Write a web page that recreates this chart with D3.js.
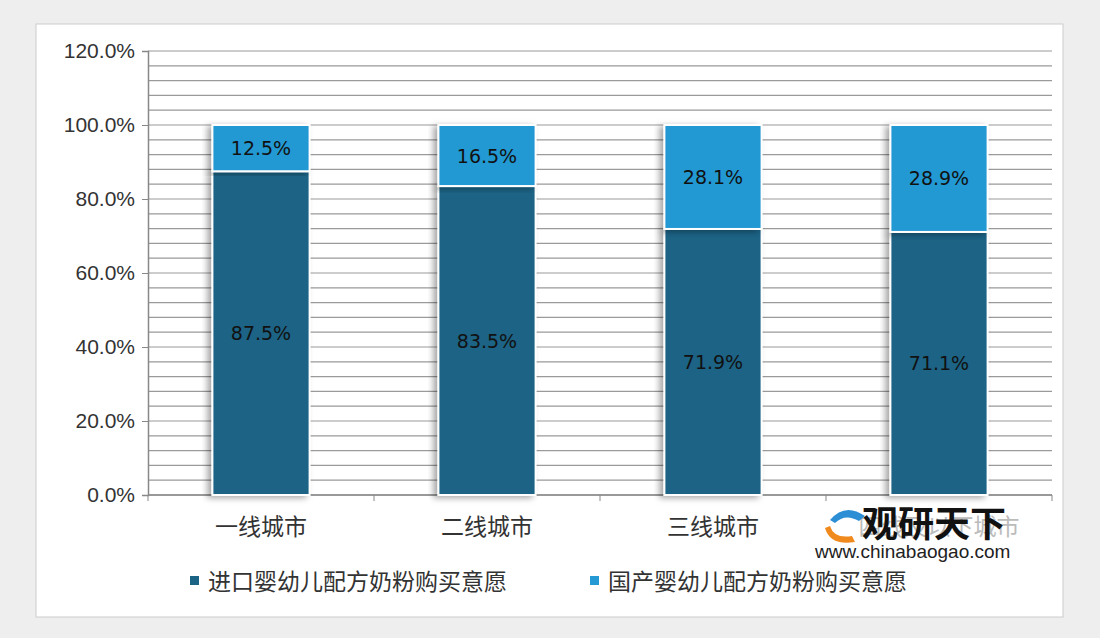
<!DOCTYPE html><html><head><meta charset="utf-8"><script src="https://cdn.jsdelivr.net/npm/d3@7"></script>
<style>body{margin:0;background:#eeeeee}</style></head><body><svg id="c" width="1100" height="638"></svg><script>
const categories=["一线城市","二线城市","三线城市","四线及以下城市"];
const imported=[87.5,83.5,71.9,71.1];
const domestic=[12.5,16.5,28.1,28.9];
const yTicks=[0,20,40,60,80,100,120];
const seriesNames=["进口婴幼儿配方奶粉购买意愿","国产婴幼儿配方奶粉购买意愿"];
const colors=["#1b6385","#2499d3"];
const svg=d3.select("#c");
svg.append("rect").attr("x",36).attr("y",24).attr("width",1027).attr("height",593).attr("fill","#fff").attr("stroke","#ccc");
const x=d3.scaleBand().domain(categories).range([148,1052]).paddingInner(0.57).paddingOuter(0.285);
const y=d3.scaleLinear().domain([0,120]).range([495,51]);
const grid=d3.range(0,121,4);
svg.append("g").selectAll("line").data(grid).join("line").attr("x1",148).attr("x2",1052).attr("y1",d=>y(d)).attr("y2",d=>y(d)).attr("stroke","#9a9a9a").attr("stroke-width",1.2);
const ya=svg.append("g").attr("transform","translate(148,0)").call(d3.axisLeft(y).tickValues(yTicks).tickSize(6).tickFormat(d=>d.toFixed(1)+"%"));
ya.select(".domain").attr("stroke","#888").attr("stroke-width",1.5);
ya.selectAll("line").attr("stroke","#888");
ya.selectAll("text").attr("font-family","Liberation Sans, Arial").attr("font-size",21).attr("fill","#333").attr("dx",-4);
const xa=svg.append("g");
xa.append("line").attr("x1",148).attr("x2",1052).attr("y1",495).attr("y2",495).attr("stroke","#888").attr("stroke-width",1.5);
xa.selectAll("line.t").data(d3.range(0,5)).join("line").attr("class","t").attr("x1",d=>148+d*(904/4)).attr("x2",d=>148+d*(904/4)).attr("y1",495).attr("y2",501).attr("stroke","#888");
xa.selectAll("text").data(categories).join("text").attr("x",d=>x(d)+x.bandwidth()/2).attr("y",535).attr("text-anchor","middle").attr("font-family","Noto Sans CJK SC").attr("font-size",23).attr("fill",(d,i)=>i==3?"#bbb":"#333").text(d=>d);
const defs=svg.append("defs");
defs.append("filter").attr("id","sh").append("feDropShadow").attr("dx",-4).attr("dy",2).attr("stdDeviation",3).attr("flood-opacity",0.35);
const g=svg.append("g");
categories.forEach((c,i)=>{
  const bx=x(c),bw=x.bandwidth();
  g.append("rect").attr("x",bx).attr("y",y(imported[i])).attr("width",bw).attr("height",y(0)-y(imported[i])).attr("fill",colors[0]).attr("stroke","#fff").attr("stroke-width",2).attr("filter","url(#sh)");
  g.append("rect").attr("x",bx).attr("y",y(100)).attr("width",bw).attr("height",y(imported[i])-y(100)).attr("fill",colors[1]).attr("stroke","#fff").attr("stroke-width",2).attr("filter","url(#sh)");
  g.append("text").attr("x",bx+bw/2).attr("y",(y(0)+y(imported[i]))/2+7).attr("text-anchor","middle").attr("font-family","DejaVu Sans").attr("font-size",19).attr("fill","#111").text(imported[i].toFixed(1)+"%");
  g.append("text").attr("x",bx+bw/2).attr("y",(y(100)+y(imported[i]))/2+7).attr("text-anchor","middle").attr("font-family","DejaVu Sans").attr("font-size",19).attr("fill","#111").text(domestic[i].toFixed(1)+"%");
});
const lg=svg.append("g");
[[190,seriesNames[0]],[590,seriesNames[1]]].forEach(([lx,t],i)=>{
  lg.append("rect").attr("x",lx).attr("y",576).attr("width",9).attr("height",9).attr("fill",colors[i]);
  lg.append("text").attr("x",lx+18).attr("y",590).attr("font-family","Noto Sans CJK SC").attr("font-size",23).attr("fill","#333").text(t);
});
const wm=svg.append("g");
wm.append("text").attr("x",862).attr("y",537).attr("font-family","Noto Sans CJK SC").attr("font-weight","bold").attr("font-size",36).attr("fill","#111").text("观研天下");
wm.append("text").attr("x",815).attr("y",558).attr("font-family","Liberation Sans, Arial").attr("font-size",19).attr("fill","#222").text("www.chinabaogao.com");
wm.append("path").attr("d","M830,520 q15,-18 35,-4 l-6,5 q-14,-8 -24,2 z").attr("fill","#2c8fd6");
wm.append("path").attr("d","M825,528 q5,18 30,14 l-3,-6 q-18,3 -22,-10 z").attr("fill","#f08a1d");
</script></body></html>
